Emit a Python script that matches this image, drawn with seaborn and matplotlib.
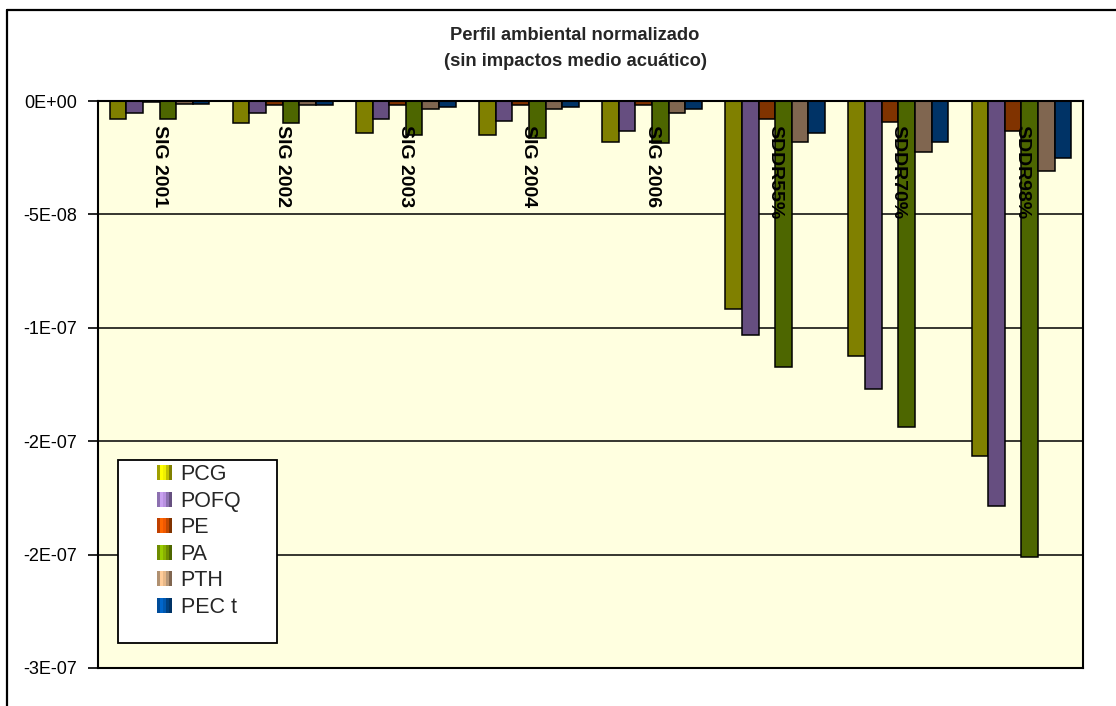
import matplotlib
matplotlib.use("Agg")
import matplotlib.pyplot as plt
import matplotlib.transforms as mtransforms
from matplotlib.patches import Patch, Rectangle
from matplotlib.lines import Line2D
from matplotlib.legend_handler import HandlerTuple
import seaborn as sns
import pandas as pd

# ---------------- data ----------------
categories = ["SIG 2001", "SIG 2002", "SIG 2003", "SIG 2004", "SIG 2006",
              "SDDR55%", "SDDR70%", "SDDR98%"]
series = ["PCG", "POFQ", "PE", "PA", "PTH", "PEC t"]
scale = 1e-8
PCG = [-0.81, -0.98, -1.42, -1.50, -1.79, -9.18, -11.23, -15.64]
POFQ = [-0.52, -0.54, -0.81, -0.88, -1.32, -10.33, -12.71, -17.84]
PE = [-0.05, -0.18, -0.18, -0.18, -0.18, -0.81, -0.91, -1.31]
PA = [-0.81, -0.98, -1.50, -1.62, -1.87, -11.74, -14.39, -20.12]
PTH = [-0.15, -0.18, -0.35, -0.35, -0.54, -1.79, -2.23, -3.09]
PECt = [-0.15, -0.18, -0.28, -0.26, -0.35, -1.42, -1.79, -2.50]
ytick_values = [0, -5e-8, -1e-7, -1.5e-7, -2e-7, -2.5e-7]
ytick_labels = ["0E+00", "-5E-08", "-1E-07", "-2E-07", "-2E-07", "-3E-07"]
title_lines = ["Perfil ambiental normalizado", "(sin impactos medio acuático)"]

bar_colors = ["#808000", "#664E80", "#803300", "#4D6600", "#806650", "#003366"]
legend_stripes = [
    ["#A0A000", "#FFFF00", "#F0F000", "#C0C000", "#808000"],
    ["#8C70B0", "#C8A0F0", "#B890E0", "#8C70B0", "#665080"],
    ["#C04000", "#FF6600", "#F05800", "#C04800", "#803300"],
    ["#6E8C00", "#99CC00", "#88B000", "#6E8C00", "#4D6600"],
    ["#B09070", "#FFCC99", "#E8B888", "#B89878", "#806650"],
    ["#004C99", "#0066CC", "#0058B0", "#004080", "#003366"],
]

values = [PCG, POFQ, PE, PA, PTH, PECt]
rows = []
for s, vals in zip(series, values):
    for c, v in zip(categories, vals):
        rows.append({"Categoria": c, "Serie": s, "Valor": v * scale})
df = pd.DataFrame(rows)

# ---------------- figure ----------------
sns.set_theme(style="white")
plt.rcParams["font.family"] = ["Liberation Sans", "DejaVu Sans"]

W, H = 1116, 706
fig = plt.figure(figsize=(W / 100, H / 100), dpi=100)
fig.patch.set_facecolor("white")

x0, x1, y0, y1 = 98, 1083, 101, 668
ax = fig.add_axes([x0 / W, 1 - y1 / H, (x1 - x0) / W, (y1 - y0) / H])
ax.set_facecolor("#FFFFE0")

sns.barplot(data=df, x="Categoria", y="Valor", hue="Serie", order=categories,
            hue_order=series, palette=dict(zip(series, bar_colors)),
            saturation=1, edgecolor="black", linewidth=1.1, width=0.81,
            errorbar=None, legend=False, ax=ax)

ax.set_xlim(-0.5, len(categories) - 0.5)
ax.set_ylim(ytick_values[-1], 0)
ax.set_yticks(ytick_values)
ax.set_yticklabels(ytick_labels)
ax.set_xlabel("")
ax.set_ylabel("")
ax.tick_params(axis="x", length=0, labelbottom=False)
ax.tick_params(axis="y", direction="out", length=7, width=1.2, color="black",
               pad=8, labelsize=13, labelcolor="black", left=True)
ax.set_axisbelow(True)
ax.yaxis.grid(True, color="black", linewidth=1.1)
ax.xaxis.grid(False)
for sp in ax.spines.values():
    sp.set_visible(True)
    sp.set_color("black")
    sp.set_linewidth(1.5)

# category labels inside the plot
trans = mtransforms.blended_transform_factory(ax.transData, ax.transAxes)
label_top = 1 - (125 - y0) / (y1 - y0)
for i, c in enumerate(categories):
    ax.text(i, label_top, c, rotation=-90, ha="center", va="top",
            fontsize=14, fontweight="bold", color="black", transform=trans,
            zorder=6)

# legend box
pw, ph = (x1 - x0), (y1 - y0)
box = Rectangle(((118 - x0) / pw, 1 - (643 - y0) / ph), (277 - 118) / pw,
                (643 - 460) / ph, transform=ax.transAxes, facecolor="white",
                edgecolor="black", linewidth=1.3, zorder=7)
ax.add_patch(box)
handles = [tuple(Patch(facecolor=c, edgecolor="none", linewidth=0) for c in st)
           for st in legend_stripes]
leg = ax.legend(handles, series, loc="upper left",
                bbox_to_anchor=((157 - x0) / pw, 1 - (464 - y0) / ph),
                borderaxespad=0, borderpad=0, frameon=False, fontsize=15.5,
                handlelength=0.7, handleheight=0.7, handletextpad=0.4,
                labelspacing=0.26,
                handler_map={tuple: HandlerTuple(ndivide=None, pad=0)})
leg.set_zorder(8)

# titles
fig.text(575 / W, 1 - 35 / H, title_lines[0], ha="center", va="center",
         fontsize=13.2, fontweight="bold")
fig.text(575 / W, 1 - 62 / H, title_lines[1], ha="center", va="center",
         fontsize=13.2, fontweight="bold")

# outer chart frame (partly cropped)
fig.add_artist(Line2D([7 / W, 1.0], [1 - 10 / H, 1 - 10 / H],
                      transform=fig.transFigure, color="black", linewidth=1.6))
fig.add_artist(Line2D([7 / W, 7 / W], [0, 1 - 10 / H],
                      transform=fig.transFigure, color="black", linewidth=1.6))

fig.savefig("out.png", dpi=100, facecolor="white")
